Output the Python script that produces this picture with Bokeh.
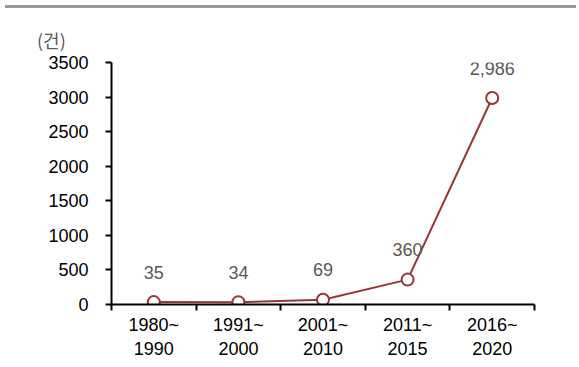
from bokeh.plotting import figure
from bokeh.models import ColumnDataSource, Range1d, FixedTicker, Div
from bokeh.layouts import column
from bokeh.core.properties import value
from bokeh.embed import file_html
from bokeh.resources import INLINE

categories = ["1980~\n1990", "1991~\n2000", "2001~\n2010", "2011~\n2015", "2016~\n2020"]
counts = [35, 34, 69, 360, 2986]
count_labels = ["35", "34", "69", "360", "2,986"]
y_ticks = [0, 500, 1000, 1500, 2000, 2500, 3000, 3500]
unit_label = "(건)"

xpos = [i + 0.5 for i in range(len(categories))]
src = ColumnDataSource(dict(x=xpos, y=counts, lab=count_labels))

FONT = "Liberation Sans"
LINE = "#953735"

p = figure(width=571, height=311, output_backend="svg", toolbar_location=None,
           x_range=Range1d(0, len(categories)), y_range=Range1d(0, max(y_ticks)),
           min_border_left=111, min_border_right=37, min_border_top=11, min_border_bottom=58)
p.outline_line_color = None
p.xgrid.visible = False
p.ygrid.visible = False

# y axis
p.yaxis.ticker = FixedTicker(ticks=y_ticks)
p.yaxis.axis_line_width = 2
p.yaxis.axis_line_color = "black"
p.yaxis.major_tick_line_width = 2
p.yaxis.major_tick_out = 6
p.yaxis.major_tick_in = 0
p.yaxis.minor_tick_line_color = None
p.yaxis.major_label_text_font = FONT
p.yaxis.major_label_text_font_size = "18px"
p.yaxis.major_label_text_color = "black"
p.yaxis.major_label_standoff = 17

# x axis
p.xaxis.ticker = FixedTicker(ticks=xpos, minor_ticks=list(range(len(categories) + 1)))
p.xaxis.major_label_overrides = {x: c for x, c in zip(xpos, categories)}
p.xaxis.axis_line_width = 2
p.xaxis.axis_line_color = "black"
p.xaxis.major_tick_line_color = None
p.xaxis.minor_tick_line_width = 2
p.xaxis.minor_tick_line_color = "black"
p.xaxis.minor_tick_out = 6
p.xaxis.minor_tick_in = 0
p.xaxis.major_label_text_font = FONT
p.xaxis.major_label_text_font_size = "18px"
p.xaxis.major_label_text_color = "black"
p.xaxis.major_label_standoff = 4

p.line("x", "y", source=src, line_color=LINE, line_width=2)
p.scatter("x", "y", source=src, size=12, fill_color="white", line_color=LINE, line_width=2)
p.text("x", "y", text="lab", source=src, text_align="center", text_baseline="middle",
       y_offset=-30, text_font=value(FONT), text_font_size="18px", text_color="#595959")

bar = Div(width=571, height=3, styles={"background-color": "#999999"})
unit = Div(width=571, height=28,
           text=('<div style="padding:12px 0 0 32px; line-height:20px; '
                 'font-family:\'Noto Sans CJK KR\'; font-size:18px; color:#595959;">'
                 + unit_label + '</div>'))
layout = column(bar, unit, p, spacing=0)

open("out.html", "w").write(file_html(layout, INLINE))
